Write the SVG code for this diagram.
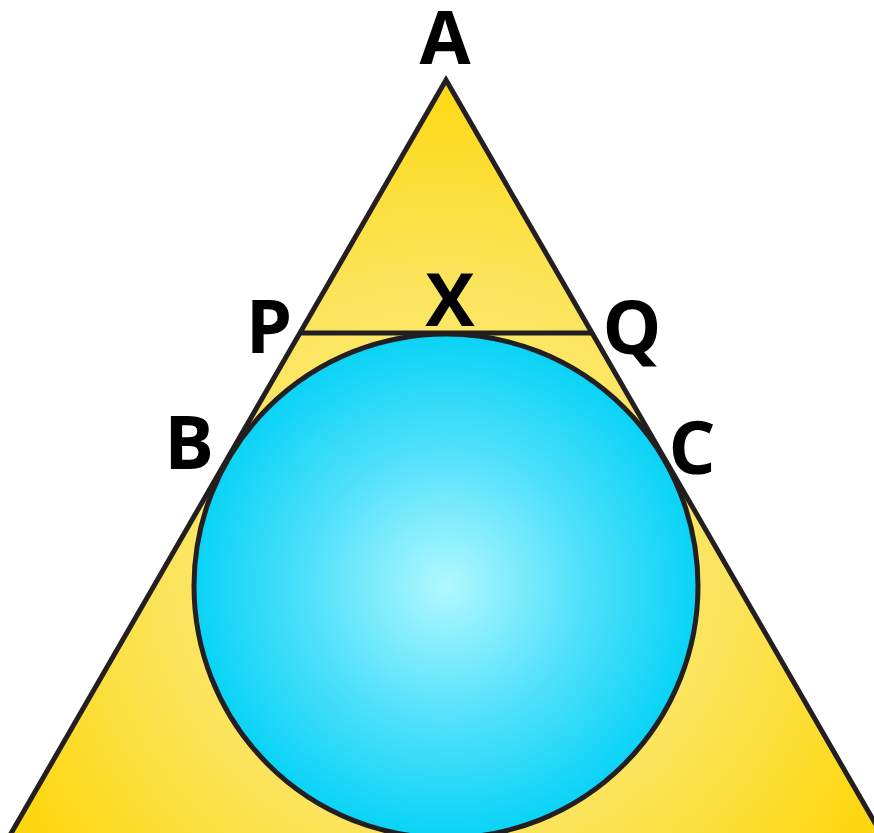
<svg xmlns="http://www.w3.org/2000/svg" width="874" height="833" viewBox="0 0 874 833">
<defs>
<radialGradient id="gy" cx="446" cy="560" r="480" gradientUnits="userSpaceOnUse">
<stop offset="0" stop-color="#fdf091"/>
<stop offset="0.6" stop-color="#fbe45a"/>
<stop offset="1" stop-color="#fdd812"/>
</radialGradient>
<radialGradient id="gb" cx="446" cy="586" r="253" gradientUnits="userSpaceOnUse">
<stop offset="0" stop-color="#b0f8fe"/>
<stop offset="0.55" stop-color="#4fe0fb"/>
<stop offset="1" stop-color="#09d3f6"/>
</radialGradient>
<style>
.ln{stroke:#231f20;stroke-width:5;stroke-linejoin:miter}
.nf{fill:none}
.lb{font-family:"Open Sans","Liberation Sans",sans-serif;font-weight:700;font-size:74px;fill:#000}
</style>
</defs>
<rect width="874" height="833" fill="#fff"/>
<g id="triangle">
<polygon points="446,80 -2,856 894,856" fill="url(#gy)" class="ln"/>
</g>
<g id="circle">
<circle cx="446" cy="586" r="252" fill="url(#gb)" class="ln"/>
</g>
<g id="connectors">
<line x1="301" y1="333" x2="591" y2="333" class="ln nf"/>
</g>
<g id="labels">
<text class="lb" x="445" y="64" text-anchor="middle">A</text>
<text class="lb" x="450" y="326" text-anchor="middle">X</text>
<text class="lb" x="269" y="353" text-anchor="middle">P</text>
<text class="lb" x="632" y="354" text-anchor="middle">Q</text>
<text class="lb" x="189" y="469" text-anchor="middle">B</text>
<text class="lb" x="692" y="474" text-anchor="middle">C</text>
</g>
</svg>
